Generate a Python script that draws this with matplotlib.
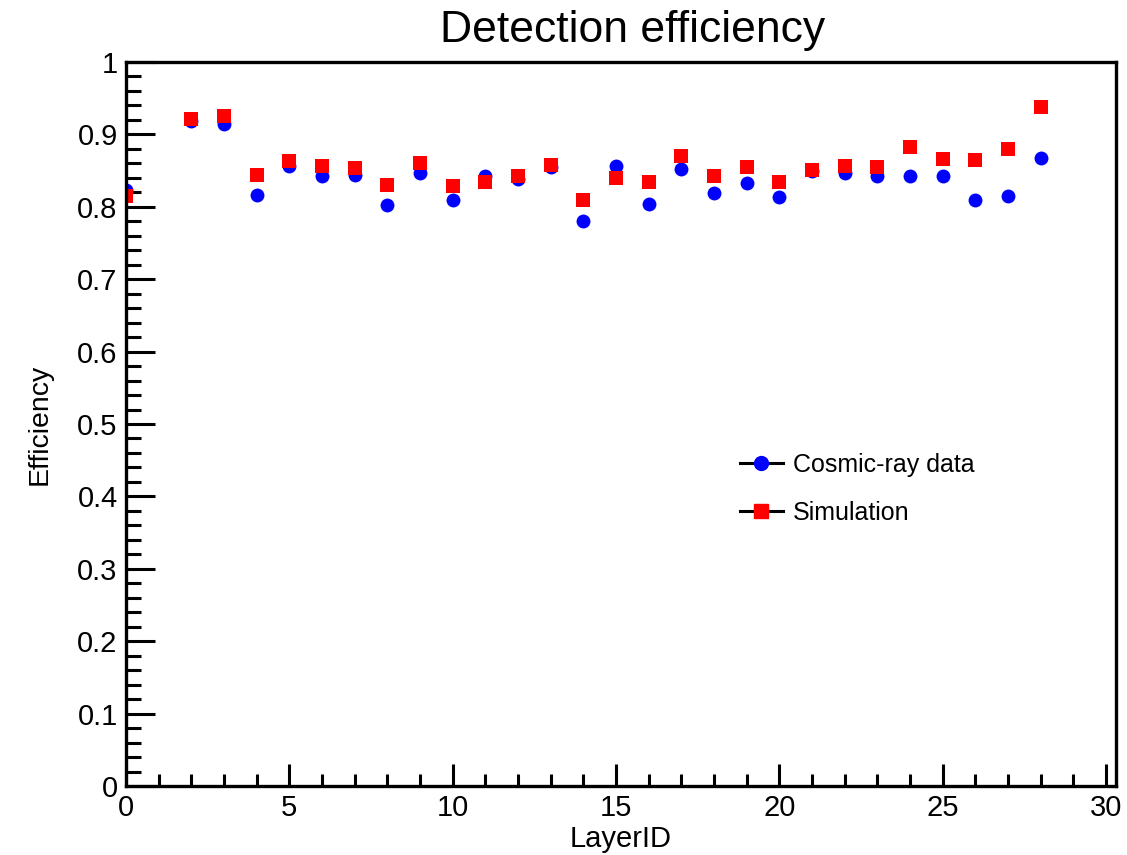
import matplotlib.pyplot as plt
from matplotlib.lines import Line2D
from matplotlib.ticker import MultipleLocator, FuncFormatter

plt.rcParams['font.family'] = ['Liberation Sans', 'DejaVu Sans']

# layer IDs (layer 1 has no entry)
layer_id = [0, 2, 3, 4, 5, 6, 7, 8, 9, 10, 11, 12, 13, 14,
            15, 16, 17, 18, 19, 20, 21, 22, 23, 24, 25, 26, 27, 28]

eff_cosmic = [0.823, 0.919, 0.914, 0.816, 0.856, 0.842, 0.844, 0.802, 0.847, 0.809,
              0.843, 0.839, 0.855, 0.780, 0.857, 0.804, 0.852, 0.819, 0.833, 0.813,
              0.849, 0.846, 0.843, 0.842, 0.842, 0.810, 0.815, 0.868]

eff_sim = [0.815, 0.921, 0.926, 0.844, 0.863, 0.856, 0.854, 0.830, 0.861, 0.829,
           0.834, 0.843, 0.858, 0.809, 0.840, 0.834, 0.870, 0.843, 0.855, 0.834,
           0.851, 0.856, 0.855, 0.883, 0.866, 0.865, 0.880, 0.938]

fig = plt.figure(figsize=(11.27, 8.55), dpi=100)
ax = fig.add_axes([0.1118, 0.0807, 0.8784, 0.8468])

ax.plot(layer_id, eff_cosmic, 'o', color='blue', markersize=10, mew=0)
ax.plot(layer_id, eff_sim, 's', color='red', markersize=10, mew=0)

ax.set_xlim(0, 30.3)
ax.set_ylim(0, 1)

ax.xaxis.set_major_locator(MultipleLocator(5))
ax.xaxis.set_minor_locator(MultipleLocator(1))
ax.yaxis.set_major_locator(MultipleLocator(0.1))
ax.yaxis.set_minor_locator(MultipleLocator(0.02))
ax.yaxis.set_major_formatter(FuncFormatter(lambda v, p: '%g' % round(v, 2)))

for s in ax.spines.values():
    s.set_linewidth(2.4)

ax.tick_params(axis='both', which='both', direction='in', top=False, right=False,
               width=2.2, labelsize=21, pad=6)
ax.tick_params(axis='x', which='major', length=16)
ax.tick_params(axis='x', which='minor', length=8.5)
ax.tick_params(axis='y', which='major', length=21)
ax.tick_params(axis='y', which='minor', length=11)

ax.set_xlabel('LayerID', fontsize=21, labelpad=2)
ax.set_ylabel('Efficiency', fontsize=20.5, labelpad=18)

fig.text(0.5617, 0.964, 'Detection efficiency', fontsize=32, ha='center', va='center')

handles = [
    Line2D([0], [0], color='black', lw=2.2, marker='o', markerfacecolor='blue',
           markeredgecolor='blue', markersize=10),
    Line2D([0], [0], color='black', lw=2.2, marker='s', markerfacecolor='red',
           markeredgecolor='red', markersize=10),
]
ax.legend(handles, ['Cosmic-ray data', 'Simulation'], loc='upper left',
          bbox_to_anchor=(0.62, 0.4600), frameon=False, fontsize=18,
          handlelength=1.72, handletextpad=0.4, labelspacing=0.95,
          borderpad=0, borderaxespad=0)

fig.savefig('out.png', dpi=100)
